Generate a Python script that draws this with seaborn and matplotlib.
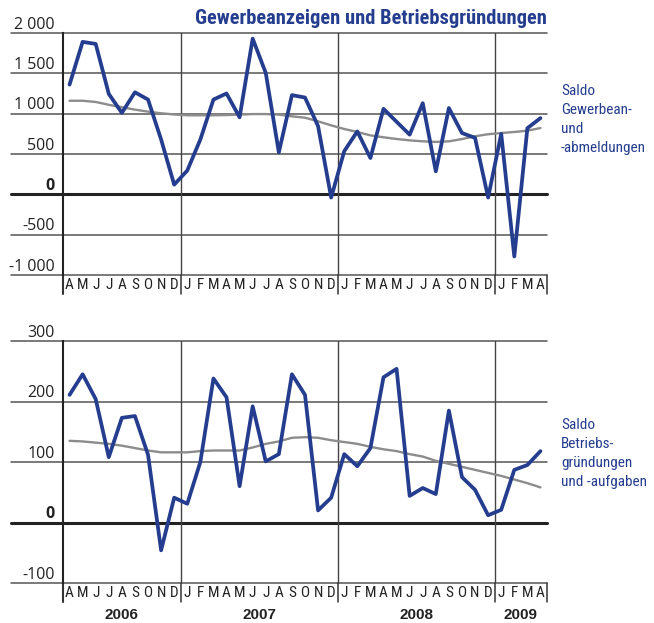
import numpy as np
import pandas as pd
import matplotlib
matplotlib.use('Agg')
import matplotlib.pyplot as plt
import matplotlib.transforms as mtransforms
from matplotlib import font_manager
from matplotlib.font_manager import FontProperties
import seaborn as sns

# month letters Apr 2006 .. Apr 2009
months = list('AMJJASONDJFMAMJJASONDJFMAMJJASONDJFMA')
years = ['2006', '2007', '2008', '2009']
months_per_year = [9, 12, 12, 4]

gewerbe = [1360, 1890, 1865, 1245, 1010, 1265, 1175, 680, 120,
           295, 680, 1175, 1250, 955, 1930, 1505, 520, 1230, 1200, 845, -40,
           535, 780, 450, 1060, 900, 740, 1130, 285, 1070, 760, 700, -40,
           750, -770, 820, 945]
gewerbe_trend = [1160, 1160, 1145, 1110, 1080, 1050, 1025, 1005, 990,
                 980, 980, 980, 983, 988, 995, 995, 988, 967, 950, 905, 855,
                 810, 773, 731, 707, 686, 669, 657, 650, 657, 685, 720, 745,
                 760, 773, 789, 822]

betriebe = [211, 245, 204, 108, 173, 176, 112, -46, 41,
            31, 100, 238, 207, 60, 192, 101, 113, 245, 211, 20, 41,
            113, 93, 123, 240, 254, 44, 57, 47, 185, 75, 54, 12,
            21, 87, 95, 118]
betriebe_trend = [135, 134, 132, 130, 127, 123, 119, 116, 116,
                  116, 118, 119, 119, 119, 124, 130, 134, 140, 141, 140, 136,
                  133, 130, 125, 121, 118, 113, 109, 102, 97, 92, 87, 82,
                  77, 71, 65, 58]

top_ticks = [2000, 1500, 1000, 500, 0, -500, -1000]
top_labels = ['2 000', '1 500', '1 000', '500', '0', '-500', '-1 000']
bot_ticks = [300, 200, 100, 0, -100]
bot_labels = ['300', '200', '100', '0', '-100']

BLUE = '#253d8e'
GREY = '#8c8c8c'

sns.set_style('white')
plt.rcParams['font.family'] = ['Open Sans', 'DejaVu Sans']


# look for a narrow sans face installed (Liberation Sans Narrow, any condensed)
def find_narrow(bold):
    prefs = ['Liberation Sans Narrow', 'Roboto Condensed', 'Open Sans Condensed',
             'Noto Sans', 'DejaVu Sans', 'Open Sans', 'Roboto']
    found = []
    for f in font_manager.fontManager.ttflist:
        is_narrow = (str(f.stretch) in ('condensed', 'semi-condensed', 'extra-condensed')
                     or 'Narrow' in f.name or 'Condensed' in f.name
                     or 'Narrow' in f.fname or 'Condensed' in f.fname)
        if not is_narrow or f.style != 'normal':
            continue
        w = f.weight if isinstance(f.weight, int) else (700 if 'bold' in str(f.weight) else 400)
        if bold != (w >= 600):
            continue
        if 'Mono' in f.name or 'Serif' in f.name:
            continue
        rank = next((i for i, p in enumerate(prefs) if f.name.startswith(p)), 99)
        found.append((rank, abs(w - (700 if bold else 400)), f.fname))
    if found:
        found.sort()
        return FontProperties(fname=found[0][2]), True
    return FontProperties(family='Liberation Sans',
                          weight='bold' if bold else 'normal'), False


narrow_fp, ok_n = find_narrow(False)
narrow_bold_fp, ok_b = find_narrow(True)
sc = 1.0 if ok_n else 0.85
scb = 1.0 if ok_b else 0.85

df = pd.DataFrame({'idx': np.arange(len(months)),
                   'gewerbe': gewerbe, 'gewerbe_trend': gewerbe_trend,
                   'betriebe': betriebe, 'betriebe_trend': betriebe_trend})

W, H = 654, 623
fig = plt.figure(figsize=(W / 100, H / 100), dpi=100)
ax1 = fig.add_axes([63 / W, 1 - 275 / H, 484 / W, 242 / H])
ax2 = fig.add_axes([63 / W, 1 - 583 / H, 484 / W, 242 / H])

dividers = np.cumsum(months_per_year)[:-1] - 0.5
ext = 19 / 242


def fp(base, size):
    p = base.copy()
    p.set_size(size)
    return p


def style_panel(ax, ticks, labels, ylim, value, trend):
    ax.set_xlim(-0.5, len(months) - 0.5)
    ax.set_ylim(*ylim)
    for v in ticks:
        if v == 0:
            ax.axhline(v, xmin=-52 / 484, xmax=1, color='#222222', lw=2.2,
                       clip_on=False, zorder=1)
        else:
            ax.axhline(v, xmin=-52 / 484, xmax=1, color='#555555', lw=1.1,
                       clip_on=False, zorder=1)
    tr = mtransforms.offset_copy(ax.get_yaxis_transform(), fig=fig,
                                 x=-6, y=3.2, units='points')
    for v, lab in zip(ticks, labels):
        ax.text(0, v, lab, transform=tr, ha='right', va='baseline',
                fontsize=11.5, color='#222222',
                fontweight='bold' if v == 0 else 'normal')
    for x in dividers:
        ax.axvline(x, color='#444444', lw=1.0, zorder=1)
    for x in list(dividers) + [-0.5, len(months) - 0.5]:
        ax.plot([x, x], [0, -ext], transform=ax.get_xaxis_transform(),
                color='#333333', lw=1.1 if x != -0.5 else 1.5, clip_on=False)
    sns.lineplot(data=df, x='idx', y=trend, ax=ax, color=GREY, lw=1.7,
                 zorder=2)
    sns.lineplot(data=df, x='idx', y=value, ax=ax, color=BLUE, lw=2.7,
                 zorder=3)
    for s in ['top', 'right', 'bottom']:
        ax.spines[s].set_visible(False)
    ax.spines['left'].set_color('#222222')
    ax.spines['left'].set_linewidth(1.5)
    ax.set_yticks([])
    ax.set_xticks(np.arange(len(months)))
    ax.set_xticklabels(months, color='#222222', fontproperties=fp(narrow_fp, 11 * sc))
    ax.set_xticks(np.arange(-0.5, len(months), 1), minor=True)
    ax.tick_params(axis='x', which='major', length=0, pad=2)
    ax.tick_params(axis='x', which='minor', length=3.8, width=0.8,
                   color='#444444', direction='out')
    ax.set_xlabel('')
    ax.set_ylabel('')


style_panel(ax1, top_ticks, top_labels, (-1000, 2000), 'gewerbe', 'gewerbe_trend')
style_panel(ax2, bot_ticks, bot_labels, (-100, 300), 'betriebe', 'betriebe_trend')

starts = np.concatenate([[0], np.cumsum(months_per_year)[:-1]])
for y, s, n in zip(years, starts, months_per_year):
    ax2.text(s + (n - 1) / 2, -32 / 242, y, transform=ax2.get_xaxis_transform(),
             ha='center', va='center', fontsize=11, fontweight='bold',
             color='#222222', family='Liberation Sans')

fig.text(547 / W, 1 - 18 / H, 'Gewerbeanzeigen und Betriebsgründungen',
         ha='right', va='center', color=BLUE,
         fontproperties=fp(narrow_bold_fp, 14.8 * scb))
fig.text(561 / W, 1 - 84 / H, 'Saldo\nGewerbean-\nund\n-abmeldungen',
         ha='left', va='top', color=BLUE, linespacing=1.45,
         fontproperties=fp(narrow_fp, 11 * sc))
fig.text(561 / W, 1 - 418 / H, 'Saldo\nBetriebs-\ngründungen\nund -aufgaben',
         ha='left', va='top', color=BLUE, linespacing=1.45,
         fontproperties=fp(narrow_fp, 11 * sc))

fig.savefig('out.png', dpi=100)
